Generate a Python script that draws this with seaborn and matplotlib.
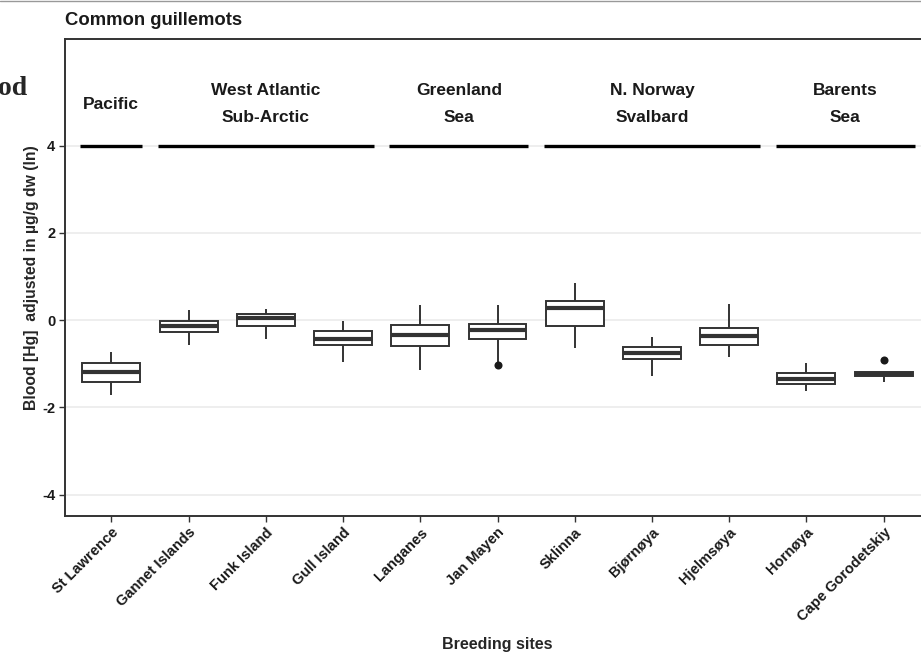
import matplotlib
matplotlib.use("Agg")
import matplotlib.pyplot as plt
from matplotlib.lines import Line2D
import pandas as pd
import seaborn as sns

SITES = ["St Lawrence", "Gannet Islands", "Funk Island", "Gull Island", "Langanes",
         "Jan Mayen", "Sklinna", "Bjørnøya", "Hjelmsøya", "Hornøya", "Cape Gorodetskiy"]
# box statistics (ln of ug/g dw)
LOWER_WHISKER = [-1.72, -0.57, -0.44, -0.95, -1.15, -0.95, -0.64, -1.27, -0.85, -1.63, -1.41]
Q1 = [-1.42, -0.26, -0.14, -0.56, -0.60, -0.44, -0.13, -0.89, -0.57, -1.47, -1.28]
MEDIAN = [-1.18, -0.14, 0.04, -0.44, -0.33, -0.22, 0.27, -0.75, -0.37, -1.34, -1.23]
Q3 = [-0.99, -0.02, 0.14, -0.24, -0.10, -0.08, 0.44, -0.61, -0.18, -1.21, -1.18]
UPPER_WHISKER = [-0.74, 0.24, 0.25, -0.02, 0.35, 0.34, 0.86, -0.38, 0.36, -0.99, -1.18]
OUTLIER_SITES = ["Jan Mayen", "Cape Gorodetskiy"]
OUTLIER_VALUES = [-1.03, -0.92]

GROUP_NAMES = ["Pacific", "West Atlantic\nSub-Arctic", "Greenland\nSea",
               "N. Norway\nSvalbard", "Barents\nSea"]
GROUP_FIRST = [0, 1, 4, 6, 9]
GROUP_LAST = [0, 3, 5, 8, 10]
GROUP_LINE_Y = 4
GROUP_LABEL_Y = 4.95

Y_TICKS = [-4, -2, 0, 2, 4]
LINE = "#333333"


def build_frame():
    rows = []
    for i, site in enumerate(SITES):
        for v in (LOWER_WHISKER[i], Q1[i], MEDIAN[i], Q3[i], UPPER_WHISKER[i]):
            rows.append({"site": site, "value": v})
    return pd.DataFrame(rows)


def main():
    sns.set_theme(style="ticks")
    plt.rcParams["font.family"] = ["Liberation Sans", "DejaVu Sans"]
    plt.rcParams["axes.unicode_minus"] = False

    df = build_frame()
    outliers = pd.DataFrame({"site": OUTLIER_SITES, "value": OUTLIER_VALUES})

    fig = plt.figure(figsize=(9.21, 6.57), dpi=100)
    ax = fig.add_axes([0.0706, 0.215, 0.9392, 0.725])

    sns.boxplot(data=df, x="site", y="value", order=SITES, whis=(0, 100), width=0.75,
                color="white", saturation=1, linecolor=LINE, linewidth=1.4,
                showfliers=False, showcaps=False,
                medianprops={"linewidth": 3, "color": LINE}, ax=ax)
    sns.stripplot(data=outliers, x="site", y="value", order=SITES, jitter=False,
                  color="#1a1a1a", size=5.8, ax=ax)

    for name, first, last in zip(GROUP_NAMES, GROUP_FIRST, GROUP_LAST):
        ax.hlines(GROUP_LINE_Y, first - 0.4, last + 0.4, color="black", linewidth=2.4, zorder=3)
        ax.text((first + last) / 2, GROUP_LABEL_Y, name, ha="center", va="center",
                fontsize=12.5, fontweight="bold", linespacing=2.0, color="#1a1a1a")

    ax.set_xlim(-0.6, len(SITES) - 0.4)
    ax.set_ylim(-4.48, 6.43)
    ax.set_yticks(Y_TICKS)
    ax.set_yticklabels([str(t) for t in Y_TICKS], fontweight="bold", fontsize=10.5)
    ax.set_xticks(range(len(SITES)))
    ax.set_xticklabels(SITES, rotation=45, ha="right", va="top", rotation_mode="anchor",
                       fontweight="bold", fontsize=10.5)
    ax.tick_params(axis="both", length=4, width=1, color=LINE, labelcolor="#1a1a1a", pad=3)

    ax.yaxis.grid(True, color="#ebebeb", linewidth=1.2)
    ax.xaxis.grid(False)
    ax.set_axisbelow(True)
    for side in ["left", "right", "top", "bottom"]:
        ax.spines[side].set_visible(True)
        ax.spines[side].set_color(LINE)
        ax.spines[side].set_linewidth(1.4)

    ax.set_ylabel("Blood [Hg]  adjusted in µg/g dw (ln)", fontsize=11.3, fontweight="bold")
    ax.yaxis.set_label_coords(-0.030, 0.5)
    ax.set_xlabel("Breeding sites", fontsize=11.5, fontweight="bold")
    ax.xaxis.set_label_coords(0.5, -0.255)

    fig.text(0.0706, 1 - 25 / 657, "Common guillemots", fontsize=13.3, fontweight="bold",
             va="baseline", ha="left", color="#1a1a1a")
    fig.text(-0.002, 1 - 95 / 657, "od", fontsize=20, fontweight="bold",
             family="Liberation Serif", va="baseline", ha="left")
    fig.add_artist(Line2D([0, 1], [0.999, 0.999], color="#999999", linewidth=1))

    fig.savefig("out.png", dpi=100)
    plt.close(fig)


if __name__ == "__main__":
    main()
